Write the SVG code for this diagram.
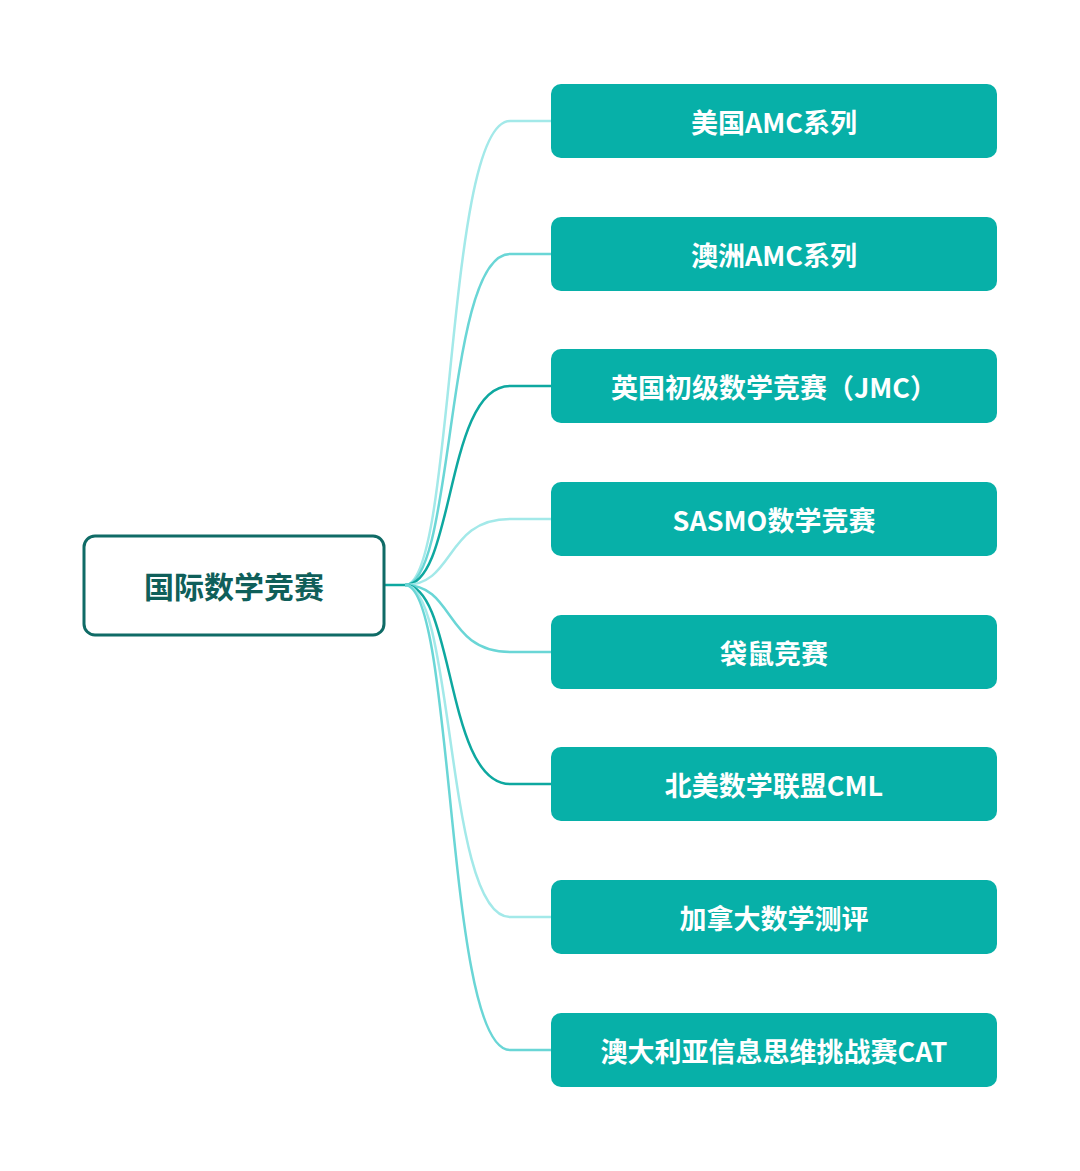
<svg xmlns="http://www.w3.org/2000/svg" width="1080" height="1171" viewBox="0 0 1080 1171">
<style>
.c{fill:#07b0a8}
.t{font-family:"Noto Sans CJK SC","Noto Sans",sans-serif;font-weight:bold;font-size:27px;fill:#fff;text-anchor:middle;dominant-baseline:central}
.l{fill:none;stroke-width:2.5}
.a{stroke:#a3e9e9}.b{stroke:#6ad6d6}.d{stroke:#0ea8a0}
</style>
<rect width="1080" height="1171" fill="#fff"/>
<g id="connectors">
<path class="l d" d="M384,585H405"/>
<path class="l a" d="M405,585C455,585 445,121 510,121H551"/>
<path class="l b" d="M405,585C455,585 445,254 510,254H551"/>
<path class="l d" d="M405,585C455,585 445,386 510,386H551"/>
<path class="l a" d="M405,585C455,585 445,519 510,519H551"/>
<path class="l b" d="M405,585C455,585 445,652 510,652H551"/>
<path class="l d" d="M405,585C455,585 445,784 510,784H551"/>
<path class="l a" d="M405,585C455,585 445,917 510,917H551"/>
<path class="l b" d="M405,585C455,585 445,1050 510,1050H551"/>
</g>
<g id="root"><rect x="84" y="536" width="300" height="99" rx="11" fill="#fff" stroke="#0f6b66" stroke-width="3"/><text x="234" y="585" class="t" style="fill:#0f5f5a;font-size:30px">国际数学竞赛</text></g>
<g id="n1"><rect class="c" x="551" y="84" width="446" height="74" rx="10"/><text class="t" x="774" y="121">美国AMC系列</text></g>
<g id="n2"><rect class="c" x="551" y="217" width="446" height="74" rx="10"/><text class="t" x="774" y="254">澳洲AMC系列</text></g>
<g id="n3"><rect class="c" x="551" y="349" width="446" height="74" rx="10"/><text class="t" x="774" y="386">英国初级数学竞赛（JMC）</text></g>
<g id="n4"><rect class="c" x="551" y="482" width="446" height="74" rx="10"/><text class="t" x="774" y="519">SASMO数学竞赛</text></g>
<g id="n5"><rect class="c" x="551" y="615" width="446" height="74" rx="10"/><text class="t" x="774" y="652">袋鼠竞赛</text></g>
<g id="n6"><rect class="c" x="551" y="747" width="446" height="74" rx="10"/><text class="t" x="774" y="784">北美数学联盟CML</text></g>
<g id="n7"><rect class="c" x="551" y="880" width="446" height="74" rx="10"/><text class="t" x="774" y="917">加拿大数学测评</text></g>
<g id="n8"><rect class="c" x="551" y="1013" width="446" height="74" rx="10"/><text class="t" x="774" y="1050">澳大利亚信息思维挑战赛CAT</text></g>
</svg>
